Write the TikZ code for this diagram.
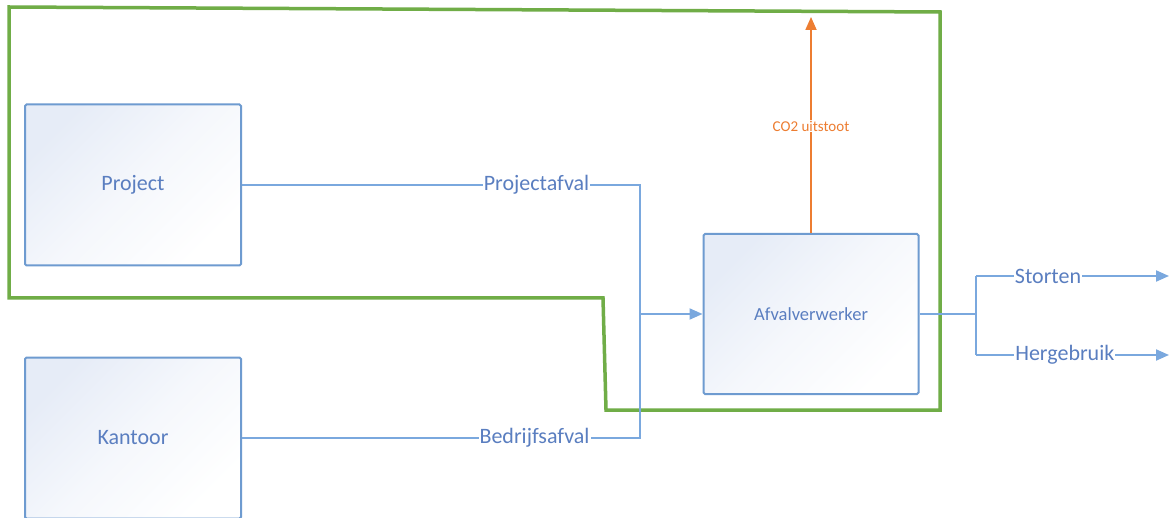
\documentclass[tikz,border=0pt]{standalone}
\usepackage{fontspec}
\setmainfont{Carlito}
\usetikzlibrary{arrows.meta}
\definecolor{txtblue}{HTML}{5A7EC0}
\definecolor{lineblue}{HTML}{7AA8DE}
\definecolor{boxblue}{HTML}{6E9BD0}
\definecolor{boxfill}{HTML}{E6ECF7}
\definecolor{grn}{HTML}{70AD47}
\definecolor{orng}{HTML}{ED7D31}
\tikzset{
  procbox/.style={draw=boxblue, line width=2pt, rounded corners=1.5pt,
    top color=boxfill, bottom color=white, middle color=white!60!boxfill, shading angle=45,
    minimum width=216pt, minimum height=161pt, inner sep=0pt,
    text=txtblue, font=\fontsize{22}{26}\selectfont},
  flow/.style={draw=lineblue, line width=2pt},
  flowarrow/.style={flow, -{Triangle[length=13pt,width=11pt]}},
  lbl/.style={fill=white, inner sep=1pt, text=txtblue, font=\fontsize{22}{26}\selectfont},
  co2/.style={draw=orng, line width=1.8pt, -{Triangle[length=13pt,width=11pt]}},
  co2lbl/.style={fill=white, inner sep=1pt, text=orng, font=\fontsize{15}{18}\selectfont},
  boundary/.style={draw=grn, line width=3.5pt, line join=miter}
}
\begin{document}
\begin{tikzpicture}[x=1pt,y=-1pt]
\useasboundingbox (0,0) rectangle (1169,518);
\fill[white] (0,0) rectangle (1169,518);
% system boundary
\draw[boundary] (9,7) -- (940,12) -- (940,410) -- (606,410) -- (603,298) -- (9,298) -- cycle;
% boxes
\node[procbox] (project) at (133,185) {Project};
\node[procbox] (kantoor) at (133,438) {Kantoor};
\node[procbox, minimum width=215pt, minimum height=160pt,
      font=\fontsize{18.5}{22}\selectfont] (afval) at (811,314) {Afvalverwerker};
% coordinates
\coordinate (c1) at (640,185);
\coordinate (c2) at (640,438);
\coordinate (j1) at (640,314);
\coordinate (top) at (811,17);
\coordinate (j2) at (976,314);
\coordinate (s1) at (976,276);
\coordinate (h1) at (976,355);
\coordinate (send) at (1169,276);
\coordinate (hend) at (1169,355);
% inputs
\draw[flow] (project.east) -- node[lbl, pos=0.74] {Projectafval} (c1) -- (c2)
  -- node[lbl, pos=0.265] {Bedrijfsafval} (kantoor.east);
\draw[flowarrow] (j1) -- (afval.west);
% emissions
\draw[co2] (afval.north) -- node[co2lbl, pos=0.495] {CO2 uitstoot} (top);
% outputs
\draw[flow] (afval.east) -- (j2);
\draw[flow] (s1) -- (h1);
\draw[flowarrow] (s1) -- node[lbl, pos=0.373] {Storten} (send);
\draw[flowarrow] (h1) -- node[lbl, pos=0.46] {Hergebruik} (hend);
\end{tikzpicture}
\end{document}
